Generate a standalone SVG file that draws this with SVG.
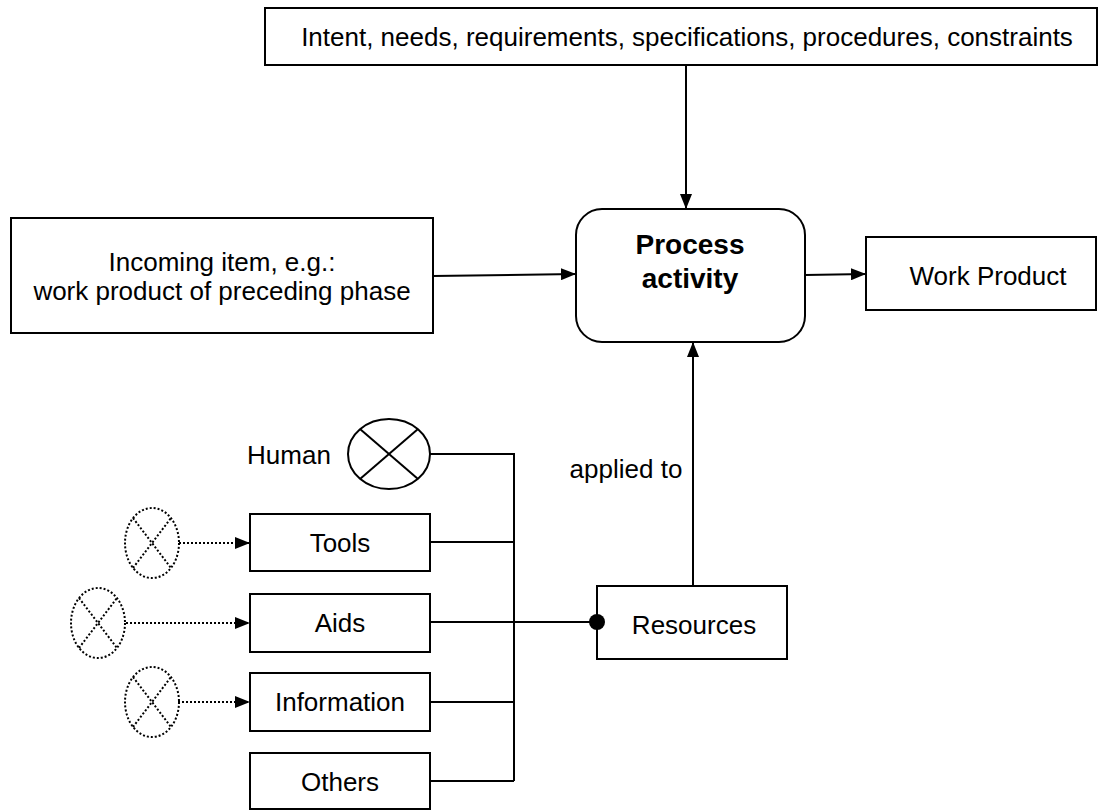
<svg xmlns="http://www.w3.org/2000/svg" width="1099" height="811" viewBox="0 0 1099 811">
  <style>
    .box { fill: #fff; stroke: #000; stroke-width: 2; }
    .lbl { font-family: "Liberation Sans", Arial, sans-serif; font-size: 26px; fill: #000; text-anchor: middle; }
    .bold { font-weight: bold; font-size: 28px; }
    .wire { fill: none; stroke: #000; stroke-width: 2; }
    .dots { fill: none; stroke: #000; stroke-width: 2; stroke-dasharray: 2 2; }
  </style>
  <defs>
    <marker id="tri" viewBox="0 0 15 12" refX="15" refY="6" markerWidth="15" markerHeight="12" markerUnits="userSpaceOnUse" orient="auto">
      <path d="M0,0 L15,6 L0,12 Z" fill="#000"/>
    </marker>
  </defs>
  <rect width="1099" height="811" fill="#fff"/>

  <g id="constraints">
    <rect class="box" x="265" y="8" width="832" height="57"/>
    <text class="lbl" x="687" y="46">Intent, needs, requirements, specifications, procedures, constraints</text>
  </g>

  <g id="process">
    <rect class="box" x="576" y="209" width="229" height="133" rx="26" ry="26"/>
    <text class="lbl bold" x="690" y="254">Process</text>
    <text class="lbl bold" x="690" y="288">activity</text>
  </g>

  <g id="incoming">
    <rect class="box" x="11" y="218" width="422" height="115"/>
    <text class="lbl" x="222" y="271">Incoming item, e.g.:</text>
    <text class="lbl" x="222" y="300">work product of preceding phase</text>
  </g>

  <g id="work-product">
    <rect class="box" x="866" y="237" width="230" height="73"/>
    <text class="lbl" x="988" y="285">Work Product</text>
  </g>

  <g id="applied-to">
    <text class="lbl" x="626" y="478">applied to</text>
  </g>

  <g id="resources">
    <rect class="box" x="597" y="586" width="190" height="73"/>
    <text class="lbl" x="694" y="634">Resources</text>
  </g>

  <g id="human">
    <text class="lbl" x="289" y="464">Human</text>
    <ellipse class="wire" cx="389" cy="454" rx="41" ry="35"/>
    <line class="wire" x1="360" y1="429" x2="418" y2="479"/>
    <line class="wire" x1="360" y1="479" x2="418" y2="429"/>
  </g>

  <g id="tools">
    <rect class="box" x="250" y="514" width="180" height="57"/>
    <text class="lbl" x="340" y="552">Tools</text>
    <ellipse class="dots" cx="152" cy="543" rx="27" ry="35"/>
    <line class="dots" x1="133" y1="518" x2="171" y2="568"/>
    <line class="dots" x1="133" y1="568" x2="171" y2="518"/>
  </g>

  <g id="aids">
    <rect class="box" x="250" y="594" width="180" height="58"/>
    <text class="lbl" x="340" y="632">Aids</text>
    <ellipse class="dots" cx="98" cy="623" rx="27" ry="35"/>
    <line class="dots" x1="79" y1="598" x2="117" y2="648"/>
    <line class="dots" x1="79" y1="648" x2="117" y2="598"/>
  </g>

  <g id="information">
    <rect class="box" x="250" y="673" width="180" height="58"/>
    <text class="lbl" x="340" y="711">Information</text>
    <ellipse class="dots" cx="152" cy="702" rx="27" ry="35"/>
    <line class="dots" x1="133" y1="677" x2="171" y2="727"/>
    <line class="dots" x1="133" y1="727" x2="171" y2="677"/>
  </g>

  <g id="others">
    <rect class="box" x="250" y="753" width="180" height="56"/>
    <text class="lbl" x="340" y="791">Others</text>
  </g>

  <g id="connectors">
    <line class="wire" x1="686" y1="65" x2="686" y2="209" marker-end="url(#tri)"/>
    <line class="wire" x1="433" y1="276" x2="576" y2="274" marker-end="url(#tri)"/>
    <line class="wire" x1="805" y1="275" x2="866" y2="274" marker-end="url(#tri)"/>
    <line class="wire" x1="693" y1="586" x2="693" y2="342" marker-end="url(#tri)"/>
    <!-- resource bus joining every resource kind -->
    <polyline class="wire" points="430,454 514,454 514,781"/>
    <line class="wire" x1="430" y1="542" x2="514" y2="542"/>
    <line class="wire" x1="430" y1="622" x2="597" y2="622"/>
    <line class="wire" x1="430" y1="702" x2="514" y2="702"/>
    <line class="wire" x1="430" y1="781" x2="514" y2="781"/>
    <circle cx="597" cy="622" r="8" fill="#000"/>
    <!-- dotted feeds into tools, aids and information -->
    <line class="dots" x1="179" y1="543" x2="250" y2="543" marker-end="url(#tri)"/>
    <line class="dots" x1="126" y1="623" x2="250" y2="623" marker-end="url(#tri)"/>
    <line class="dots" x1="178" y1="702" x2="250" y2="702" marker-end="url(#tri)"/>
  </g>
</svg>
